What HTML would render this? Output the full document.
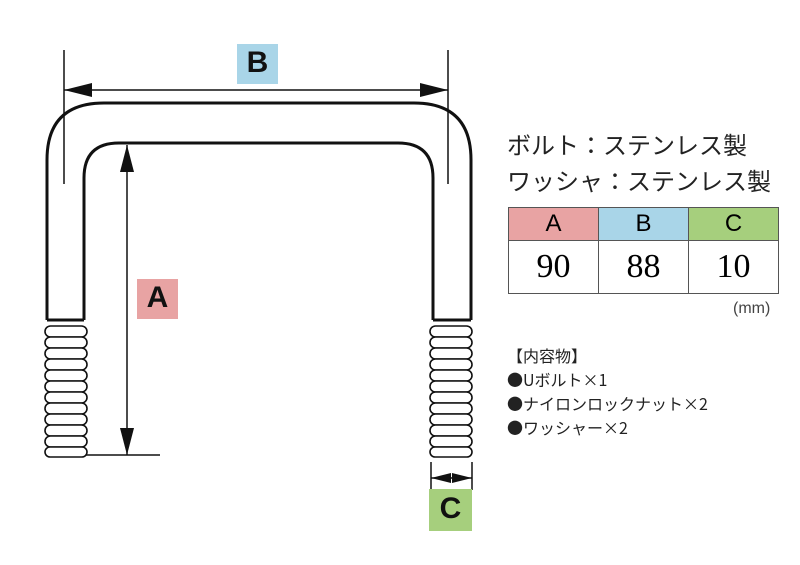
<!DOCTYPE html>
<html><head><meta charset="utf-8"><style>
body{margin:0;width:800px;height:565px;background:#fff;position:relative;overflow:hidden;font-family:"Liberation Sans","Noto Sans CJK JP",sans-serif;}
.t{position:absolute;color:#222;white-space:nowrap;}
table{position:absolute;left:508px;top:207px;border-collapse:collapse;}
td{border:1.5px solid #555;width:89px;text-align:center;padding:0;}
.h td{height:32px;font-size:24px;}
.v td{height:52px;font-size:34px;font-family:"Liberation Serif",serif;}
.lab{position:absolute;font-size:30px;font-weight:bold;text-align:center;color:#111;}
</style></head><body>
<svg width="800" height="565" style="position:absolute;left:0;top:0">
<g fill="none" stroke="#111" stroke-width="3">
<path d="M47,320 V160 Q47,103 104,103 H414 Q471,103 471,160 V320"/>
<path d="M84,320 V178 Q84,143 119,143 H398 Q433,143 433,178 V320"/>
<line x1="47" y1="320" x2="84" y2="320"/>
<line x1="433" y1="320" x2="471" y2="320"/>
</g>
<g stroke="#111" stroke-width="1.5" fill="none">
<line x1="64" y1="50" x2="64" y2="184"/>
<line x1="448" y1="50" x2="448" y2="184"/>
<line x1="64" y1="90" x2="448" y2="90"/>
<line x1="127" y1="145" x2="127" y2="455"/>
<line x1="47" y1="455" x2="160" y2="455"/>
<line x1="431" y1="462" x2="431" y2="490"/>
<line x1="472" y1="462" x2="472" y2="490"/>
<line x1="431" y1="478" x2="472" y2="478"/>
</g>
<g fill="#111">
<polygon points="64,90 92,83 92,97"/>
<polygon points="448,90 420,83 420,97"/>
<polygon points="127,145 120,172 134,172"/>
<polygon points="127,455 120,428 134,428"/>
<polygon points="431,478 451,473 451,483"/>
<polygon points="472,478 452,473 452,483"/>
</g>
<g fill="#fff" stroke="#111" stroke-width="1.6">
<rect x="45" y="326" width="42" height="11" rx="5.5"/><rect x="45" y="337" width="42" height="11" rx="5.5"/><rect x="45" y="348" width="42" height="11" rx="5.5"/><rect x="45" y="359" width="42" height="11" rx="5.5"/><rect x="45" y="370" width="42" height="11" rx="5.5"/><rect x="45" y="381" width="42" height="11" rx="5.5"/><rect x="45" y="392" width="42" height="11" rx="5.5"/><rect x="45" y="403" width="42" height="11" rx="5.5"/><rect x="45" y="414" width="42" height="11" rx="5.5"/><rect x="45" y="425" width="42" height="11" rx="5.5"/><rect x="45" y="436" width="42" height="11" rx="5.5"/><rect x="45" y="447" width="42" height="10" rx="5"/>
<rect x="430" y="326" width="42" height="11" rx="5.5"/><rect x="430" y="337" width="42" height="11" rx="5.5"/><rect x="430" y="348" width="42" height="11" rx="5.5"/><rect x="430" y="359" width="42" height="11" rx="5.5"/><rect x="430" y="370" width="42" height="11" rx="5.5"/><rect x="430" y="381" width="42" height="11" rx="5.5"/><rect x="430" y="392" width="42" height="11" rx="5.5"/><rect x="430" y="403" width="42" height="11" rx="5.5"/><rect x="430" y="414" width="42" height="11" rx="5.5"/><rect x="430" y="425" width="42" height="11" rx="5.5"/><rect x="430" y="436" width="42" height="11" rx="5.5"/><rect x="430" y="447" width="42" height="10" rx="5"/>
</g>
<rect x="237" y="44" width="41" height="40" fill="#a9d5e8"/>
<rect x="137" y="279" width="41" height="40" fill="#e8a3a3"/>
<rect x="429" y="489" width="43" height="42" fill="#a6cf7d"/>
</svg>
<div class="lab" style="left:237px;top:46px;width:41px">B</div>
<div class="lab" style="left:137px;top:281px;width:41px">A</div>
<div class="lab" style="left:429px;top:492px;width:43px">C</div>
<div class="t" style="left:507px;top:126px;font-size:24px">ボルト：ステンレス製</div>
<div class="t" style="left:507px;top:162px;font-size:24px">ワッシャ：ステンレス製</div>
<table>
<tr class="h"><td style="background:#e8a3a3">A</td><td style="background:#a9d5e8">B</td><td style="background:#a6cf7d">C</td></tr>
<tr class="v"><td>90</td><td>88</td><td>10</td></tr>
</table>
<div class="t" style="left:733px;top:300px;font-size:16px;color:#444">(mm)</div>
<div class="t" style="left:507px;top:343px;font-size:16px;line-height:24px;font-family:'Noto Sans CJK JP',sans-serif">【内容物】<br>●Uボルト×1<br>●ナイロンロックナット×2<br>●ワッシャー×2</div>
</body></html>
